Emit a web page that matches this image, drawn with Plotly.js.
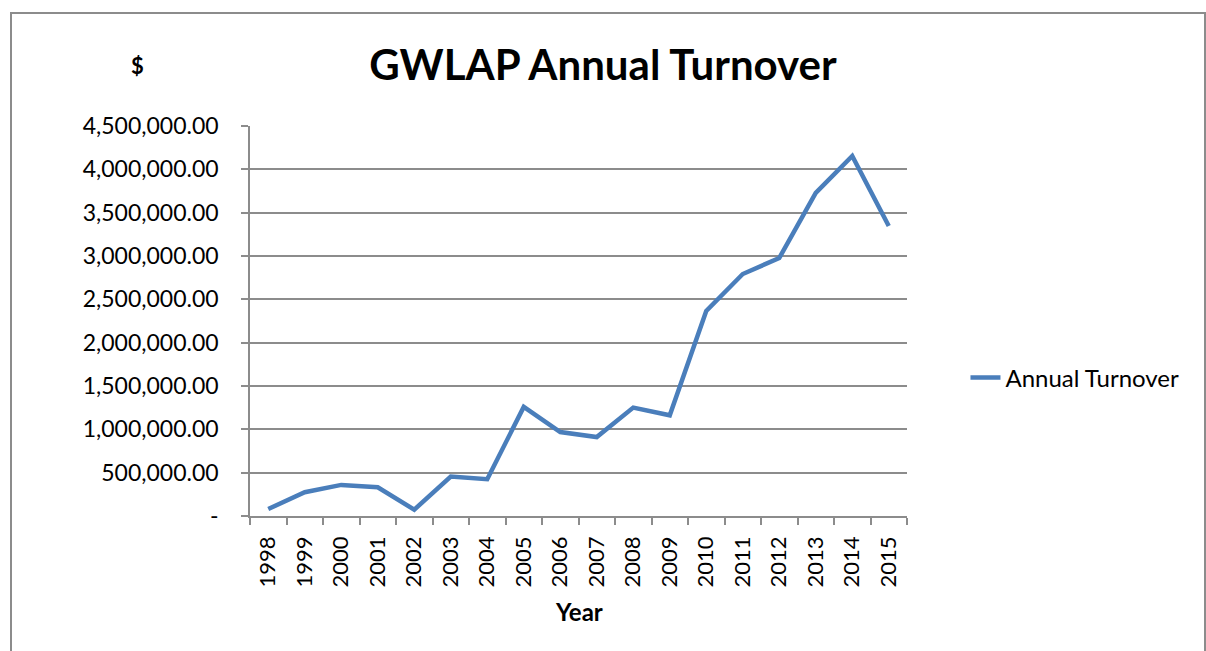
<!DOCTYPE html>
<html>
<head>
<meta charset="utf-8">
<script src="https://cdn.plot.ly/plotly-3.0.1.min.js"></script>
<style>
  body { margin: 0; background: #fff; }
  #frame { position: absolute; left: 10px; top: 12px; width: 1192px; height: 700px; border: 2px solid #8c8c8c; }
  #chart { position: absolute; left: 0; top: 0; width: 1206px; height: 651px; }
</style>
</head>
<body>
<div id="frame"></div>
<div id="chart"></div>
<script>
const years = ['1998', '1999', '2000', '2001', '2002', '2003', '2004', '2005', '2006',
               '2007', '2008', '2009', '2010', '2011', '2012', '2013', '2014', '2015'];
const turnover = [81000, 274000, 359000, 332000, 73000, 456000, 425000, 1259000, 969000,
                  911000, 1251000, 1162000, 2365000, 2792000, 2977000, 3727000, 4154000, 3346000];
const yTicks = [0, 500000, 1000000, 1500000, 2000000, 2500000, 3000000, 3500000, 4000000, 4500000];
const yTickText = ['-', '500,000.00', '1,000,000.00', '1,500,000.00', '2,000,000.00',
                   '2,500,000.00', '3,000,000.00', '3,500,000.00', '4,000,000.00', '4,500,000.00'];

const font = 'Lato, "Open Sans", sans-serif';
const grey = '#8c8c8c';

const trace = {
  x: years,
  y: turnover,
  type: 'scatter',
  mode: 'lines',
  name: 'Annual Turnover',
  line: {color: '#4a7ebb', width: 4.5}
};

const layout = {
  width: 1206,
  height: 651,
  paper_bgcolor: 'rgba(0,0,0,0)',
  plot_bgcolor: 'rgba(0,0,0,0)',
  margin: {l: 250, r: 299, t: 126, b: 135},
  font: {family: font, size: 20, color: '#000'},
  title: {
    text: '<b>GWLAP Annual Turnover</b>',
    font: {family: font, size: 42, color: '#000'},
    x: 0.5, xanchor: 'center',
    y: 0.9, yanchor: 'middle'
  },
  xaxis: {
    type: 'category',
    range: [-0.5, 17.5],
    tickson: 'boundaries',
    ticks: 'outside',
    ticklen: 7,
    tickwidth: 1.5,
    tickcolor: grey,
    tickangle: -90,
    ticklabelstandoff: 10,
    showline: true,
    linecolor: grey,
    linewidth: 1.5,
    showgrid: false,
    tickfont: {family: font, size: 22}
  },
  yaxis: {
    range: [0, 4500000],
    tickvals: yTicks,
    ticktext: yTickText,
    ticks: 'outside',
    ticklen: 7,
    tickwidth: 1.5,
    tickcolor: grey,
    ticklabelstandoff: 18,
    showline: true,
    linecolor: grey,
    linewidth: 1.5,
    gridcolor: grey,
    gridwidth: 1.5,
    zeroline: false,
    tickfont: {family: font, size: 23}
  },
  showlegend: true,
  legend: {
    x: 1.089, xanchor: 'left',
    y: 0.354, yanchor: 'middle',
    font: {family: font, size: 24},
    bgcolor: 'rgba(0,0,0,0)'
  },
  annotations: [
    {
      text: '<b>$</b>', xref: 'paper', yref: 'paper',
      x: -0.1705, y: 1.154, xanchor: 'center', yanchor: 'middle', showarrow: false,
      font: {family: font, size: 22}
    },
    {
      text: '<b>Year</b>', xref: 'paper', yref: 'paper',
      x: 0.5, y: -0.246, xanchor: 'center', yanchor: 'middle', showarrow: false,
      font: {family: font, size: 24}
    }
  ]
};

Plotly.newPlot('chart', [trace], layout, {displayModeBar: false});
</script>
</body>
</html>
